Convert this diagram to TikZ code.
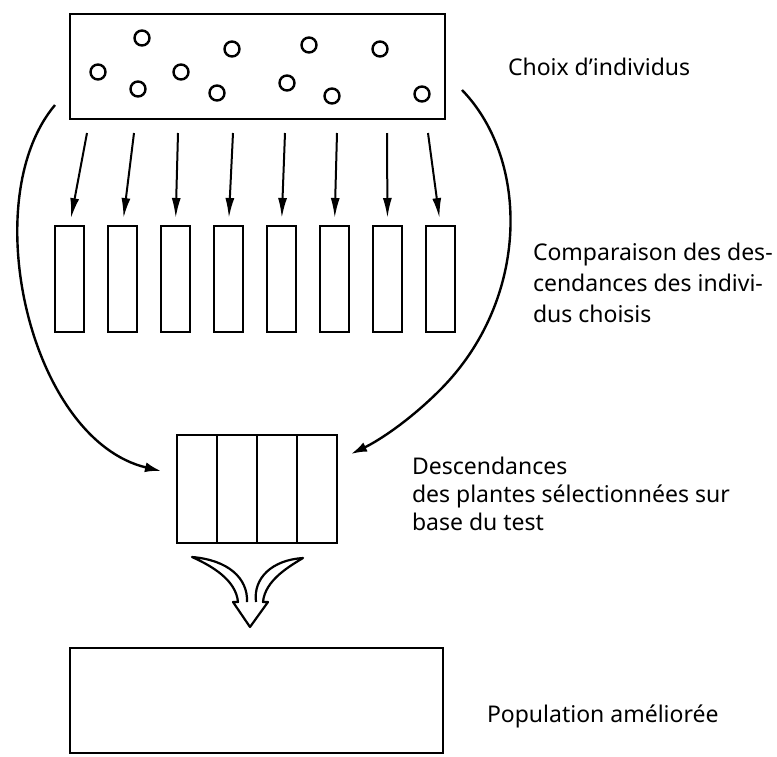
\documentclass[tikz,border=0pt]{standalone}
\usepackage{fontspec}
\setmainfont{Noto Sans}
\usetikzlibrary{arrows.meta}

\begin{document}
\begin{tikzpicture}[
    x=0.5pt, y=-0.5pt,
    every node/.style={inner sep=0pt, outer sep=0pt},
    box/.style={draw, rectangle, line width=1.3pt},
    seed/.style={draw, circle, minimum size=7.5pt, line width=1.2pt},
    lot/.style={draw, rectangle, line width=1.3pt, minimum width=14.5pt, minimum height=53pt},
    note/.style={anchor=base west, align=left, font=\fontsize{11.5}{15.5}\selectfont},
    down/.style={-{Latex[length=10pt,width=4.5pt]}, line width=1pt, shorten >=4pt},
    sweep/.style={-{Latex[length=8pt,width=5pt]}, line width=1.2pt}
]
\useasboundingbox (0,0) rectangle (777,756);

\node[box, minimum width=187.5pt, minimum height=52.5pt] (choix) at (257.5,66.5) {};
\foreach \cx/\cy [count=\i] in {142/38, 232/49, 309/45, 380/49, 98/72, 138/89,
                                181/72, 217/93, 287/83, 332/96, 422/94}
    \node[seed] (g\i) at (\cx,\cy) {};

\foreach \i in {1,...,8}
    \node[lot] (p\i) at ({69.5+53*(\i-1)}, 279) {};
\foreach \sx [count=\i] in {87,134,178,233,285,337,387,428} {
    \coordinate (s\i) at (\sx,133);
    \draw[down] (s\i) -- (p\i.north);
}

\node[box, minimum width=80pt, minimum height=54pt] (sel) at (257,489) {};
\foreach \dx in {217,257,297}
    \draw[line width=1.3pt] (\dx,435) -- (\dx,543);

\coordinate (gl) at (55,105);
\coordinate (gr) at (462,90);
\draw[sweep] (gl) .. controls (-25,200) and (30,440) .. ([shift={(-16,-18)}]sel.west);
\draw[sweep] (gr) .. controls (530,160) and (530,300) .. (440,390)
    .. controls (410,420) and (380,440) .. ([shift={(14,-35)}]sel.east);

\coordinate (fl) at (192,557);
\coordinate (fr) at (303,558);
\coordinate (tip) at (250,627);
\draw[line width=1.1pt, line join=round] (247,602) .. controls (248,578) and (228,560) .. (fl)
    .. controls (212,566) and (236,580) .. (238,602) -- (233,602) -- (tip)
    -- (268,602) -- (263,602) .. controls (265,580) and (290,566) .. (fr)
    .. controls (272,560) and (253,578) .. (256,602);

\node[box, minimum width=186.5pt, minimum height=52.5pt] (pop) at (256.5,700.5) {};

\node[note] (t1) at (508,75) {Choix d’individus};
\node[note] (t2) at (533,322) {Comparaison des des-\\cendances des indivi-\\dus choisis};
\node[note, font=\fontsize{11.5}{14}\selectfont] (t3) at (412,530) {Descendances\\des plantes sélectionnées sur\\base du test};
\node[note] (t4) at (487,722) {Population améliorée};
\end{tikzpicture}
\end{document}
